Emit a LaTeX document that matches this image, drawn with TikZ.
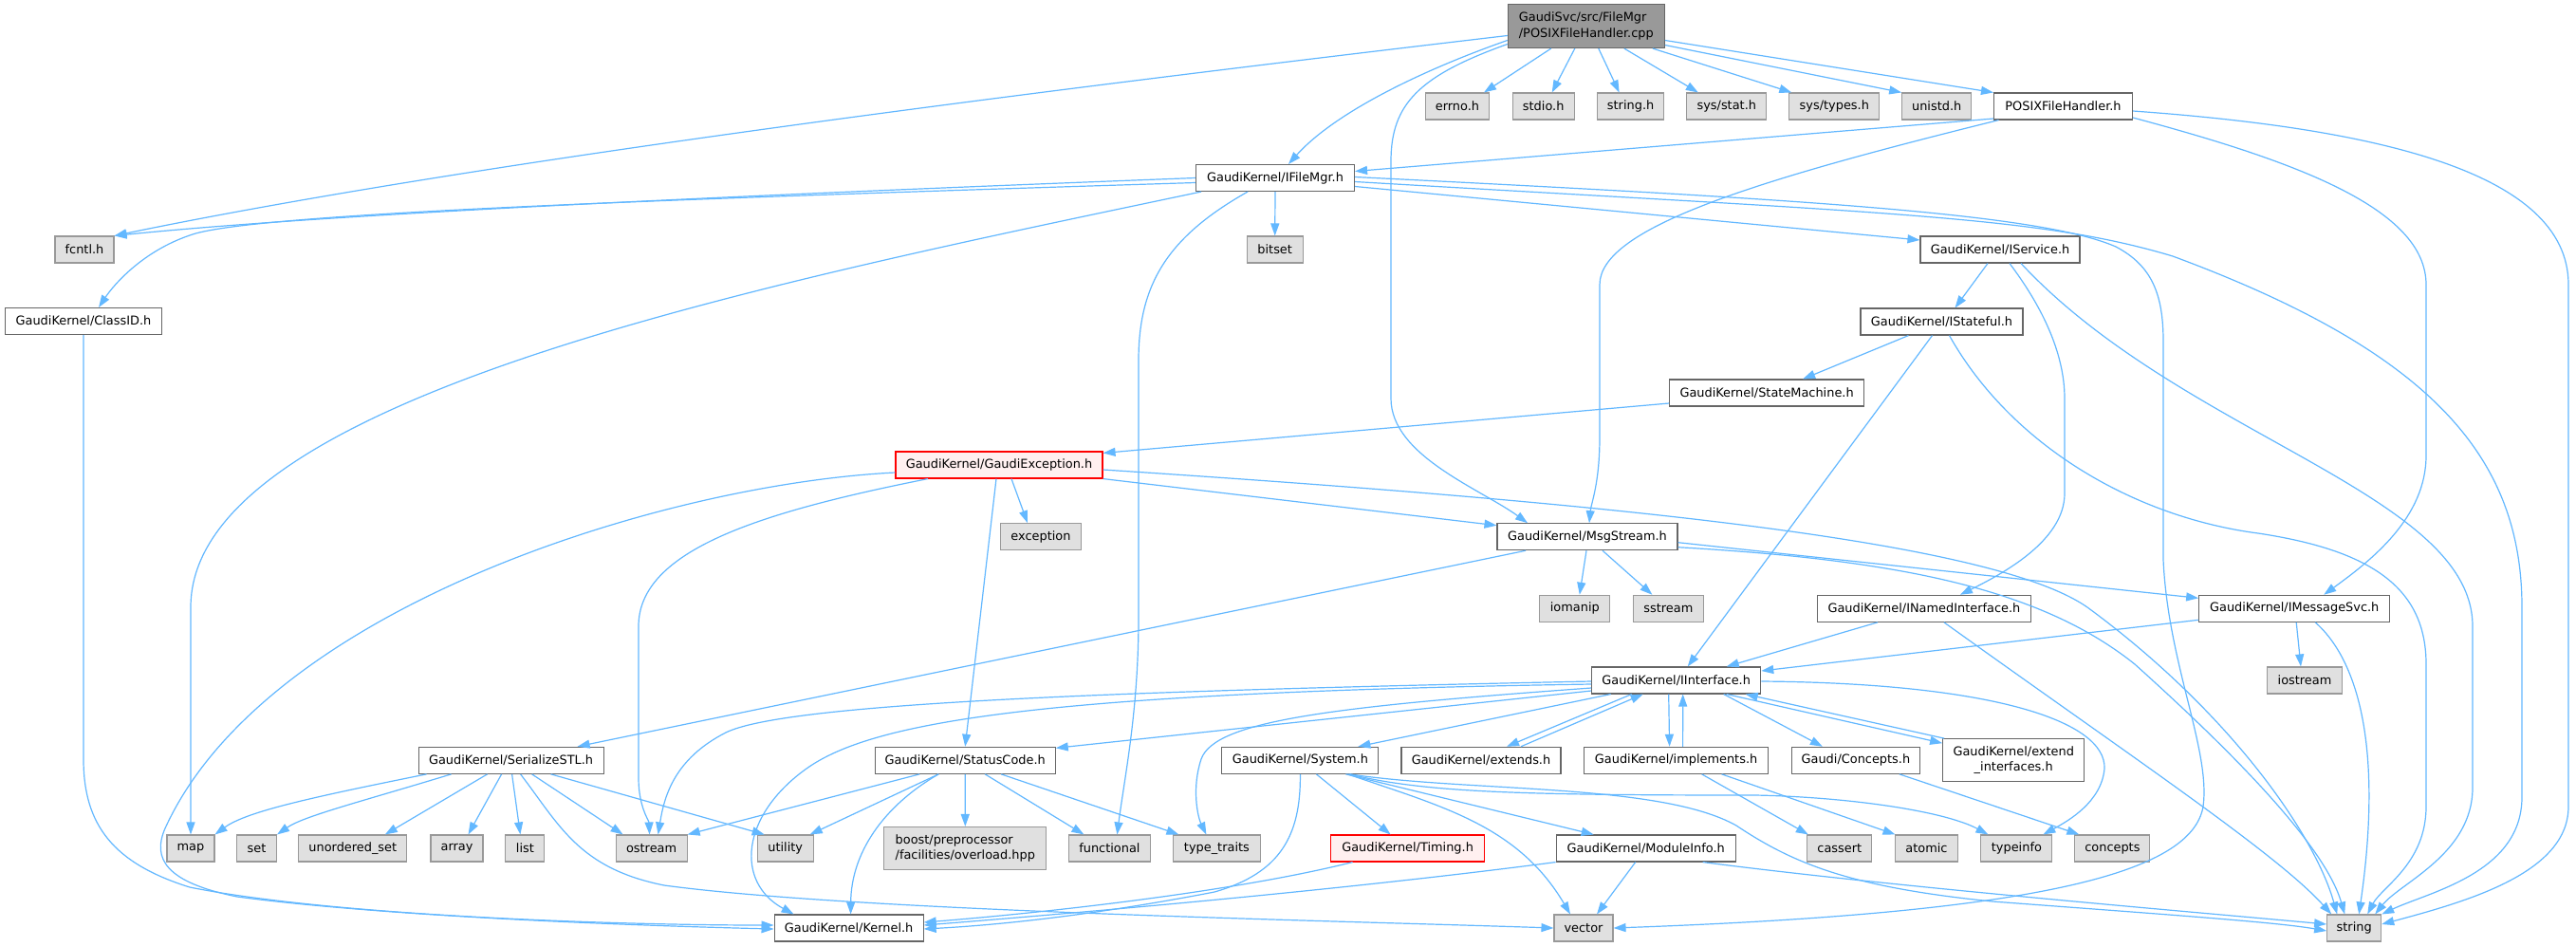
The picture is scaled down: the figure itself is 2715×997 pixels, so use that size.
\documentclass[tikz,border=0pt]{standalone}
\usepackage{fontspec}
\setmainfont{DejaVu Sans}
\usetikzlibrary{arrows.meta}
\definecolor{edgec}{HTML}{63B8FF}
\definecolor{wbord}{HTML}{666666}
\definecolor{gbord}{HTML}{999999}
\definecolor{gfill}{HTML}{E0E0E0}
\definecolor{rfill}{HTML}{FFF0F0}
\definecolor{rootfill}{HTML}{999999}
\tikzset{
  basebox/.style={rectangle, line width=1.1pt, minimum height=28pt, inner xsep=2pt, inner ysep=0pt,
    font=\fontsize{12.9pt}{16.5pt}\selectfont, text=black},
  wbox/.style={basebox, draw=wbord, fill=white},
  gbox/.style={basebox, draw=gbord, fill=gfill},
  rbox/.style={basebox, draw=red, fill=rfill},
  rootbox/.style={basebox, draw=wbord, fill=rootfill},
  dep/.style={draw=edgec, line width=1.2pt, -{Triangle[length=13pt,width=9pt]}}
}
\begin{document}
\begin{tikzpicture}[x=1pt,y=-1pt]
\useasboundingbox[fill=white] (0,0) rectangle (2715,997);

% nodes
\node[rootbox, minimum width=165pt, minimum height=46pt, align=left] (root) at (1671.8,27.5) {GaudiSvc/src/FileMgr\\/POSIXFileHandler.cpp};
\node[gbox, minimum width=67pt] (errno) at (1536,112) {errno.h};
\node[gbox, minimum width=65pt] (stdio) at (1626.7,112) {stdio.h};
\node[gbox, minimum width=70pt] (stringh) at (1718.6,112) {string.h};
\node[gbox, minimum width=84pt] (sysstat) at (1819.8,112) {sys/stat.h};
\node[gbox, minimum width=95pt] (systypes) at (1933.3,112) {sys/types.h};
\node[gbox, minimum width=73pt] (unistd) at (2041.2,112) {unistd.h};
\node[wbox, minimum width=146pt] (posix) at (2174.5,112) {POSIXFileHandler.h};
\node[wbox, minimum width=167pt] (ifilemgr) at (1344,187.5) {GaudiKernel/IFileMgr.h};
\node[gbox, minimum width=62pt] (fcntl) at (89,263) {fcntl.h};
\node[gbox, minimum width=59pt] (bitset) at (1343.7,263) {bitset};
\node[wbox, minimum width=168pt] (iservice) at (2108,263) {GaudiKernel/IService.h};
\node[wbox, minimum width=165pt] (classid) at (88,338.5) {GaudiKernel/ClassID.h};
\node[wbox, minimum width=171pt] (istateful) at (2046.5,339) {GaudiKernel/IStateful.h};
\node[wbox, minimum width=205pt] (statemachine) at (1862.1,414) {GaudiKernel/StateMachine.h};
\node[rbox, minimum width=218pt] (gexc) at (1053,490) {GaudiKernel/GaudiException.h};
\node[gbox, minimum width=85pt] (exception) at (1097,565.7) {exception};
\node[wbox, minimum width=190pt] (msgstream) at (1673,565.7) {GaudiKernel/MsgStream.h};
\node[gbox, minimum width=74pt] (iomanip) at (1659.8,641.3) {iomanip};
\node[gbox, minimum width=74pt] (sstream) at (1758.4,641.3) {sstream};
\node[wbox, minimum width=225pt] (inamed) at (2027.9,641.3) {GaudiKernel/INamedInterface.h};
\node[wbox, minimum width=201pt] (imsgsvc) at (2418.2,641.3) {GaudiKernel/IMessageSvc.h};
\node[wbox, minimum width=178pt] (iinterface) at (1766.7,717) {GaudiKernel/IInterface.h};
\node[gbox, minimum width=79pt] (iostream) at (2429,717) {iostream};
\node[wbox, minimum width=195pt] (serialize) at (538.6,801.3) {GaudiKernel/SerializeSTL.h};
\node[wbox, minimum width=190pt] (statuscode) at (1017.2,801.3) {GaudiKernel/StatusCode.h};
\node[wbox, minimum width=165pt] (system) at (1370.4,801.3) {GaudiKernel/System.h};
\node[wbox, minimum width=168pt] (extends) at (1561,801.3) {GaudiKernel/extends.h};
\node[wbox, minimum width=194pt] (implements) at (1766.6,801.3) {GaudiKernel/implements.h};
\node[wbox, minimum width=135pt] (conceptsh) at (1955.9,801.3) {Gaudi/Concepts.h};
\node[wbox, minimum width=149pt, minimum height=45pt, align=center] (extendif) at (2122.2,801.2) {GaudiKernel/extend\\\_interfaces.h};
\node[gbox, minimum width=50pt] (map) at (201,894) {map};
\node[gbox, minimum width=42pt] (set) at (270.5,894) {set};
\node[gbox, minimum width=114pt] (uset) at (371.8,894) {unordered\_set};
\node[gbox, minimum width=55pt] (array) at (481.5,894) {array};
\node[gbox, minimum width=41pt] (list) at (553.4,894) {list};
\node[gbox, minimum width=75pt] (ostream) at (686.6,894) {ostream};
\node[gbox, minimum width=59pt] (utility) at (827.7,894) {utility};
\node[gbox, minimum width=171pt, minimum height=45pt, align=left] (boost) at (1017.3,894) {boost/preprocessor\\/facilities/overload.hpp};
\node[gbox, minimum width=86pt] (functional) at (1169.4,894) {functional};
\node[gbox, minimum width=92pt] (typetraits) at (1282.4,894) {type\_traits};
\node[rbox, minimum width=162pt] (timing) at (1483.6,894) {GaudiKernel/Timing.h};
\node[wbox, minimum width=189pt] (moduleinfo) at (1734.7,894) {GaudiKernel/ModuleInfo.h};
\node[gbox, minimum width=68pt] (cassert) at (1938.8,894) {cassert};
\node[gbox, minimum width=66pt] (atomic) at (2030.5,894) {atomic};
\node[gbox, minimum width=75pt] (typeinfo) at (2125.4,894) {typeinfo};
\node[gbox, minimum width=79pt] (concepts) at (2226.4,894) {concepts};
\node[wbox, minimum width=157pt] (kernel) at (894.6,978) {GaudiKernel/Kernel.h};
\node[gbox, minimum width=62pt] (vector) at (1669,978) {vector};
\node[gbox, minimum width=57pt] (string) at (2481.2,978) {string};

% root edges
\draw[dep] ([yshift=-10]root.west) .. controls (1100,95) and (500,170) .. (fcntl.north east);
\draw[dep] ([xshift=-37]root.south) -- ([xshift=28]errno.north);
\draw[dep] ([xshift=-12]root.south) -- ([xshift=9]stdio.north);
\draw[dep] ([xshift=13]root.south) -- ([xshift=-12]stringh.north);
\draw[dep] ([xshift=40]root.south) -- ([xshift=-30]sysstat.north);
\draw[dep] ([xshift=70]root.south) -- ([xshift=-45]systypes.north);
\draw[dep] ([yshift=-20]root.east) -- (unistd.north west);
\draw[dep] ([yshift=-15]root.east) -- (posix.north west);
\draw[dep] ([yshift=-15]root.west) .. controls (1510,70) and (1410,115) .. ([xshift=14]ifilemgr.north);
\draw[dep] ([yshift=-19]root.west) .. controls (1495,80) and (1466,110) .. (1466,170) -- (1466,420) .. controls (1466,480) and (1560,515) .. ([xshift=-63]msgstream.north);

% POSIXFileHandler.h
\draw[dep] ([yshift=-13]posix.west) -- ([yshift=7]ifilemgr.east);
\draw[dep] ([xshift=-68]posix.south) .. controls (1850,190) and (1686,240) .. (1686,300) -- (1686,460) .. controls (1686,510) and (1677,530) .. ([xshift=2]msgstream.north);
\draw[dep] ([yshift=-12]posix.east) .. controls (2420,170) and (2557,220) .. (2557,300) -- (2557,480) .. controls (2557,545) and (2500,590) .. ([xshift=31]imsgsvc.north);
\draw[dep] ([yshift=-5]posix.east) .. controls (2500,135) and (2707,180) .. (2707,300) -- (2707,850) .. controls (2707,920) and (2600,950) .. ([yshift=4]string.east);

% IFileMgr.h
\draw[dep] (ifilemgr.west) .. controls (800,205) and (350,225) .. (fcntl.north east);
\draw[dep] ([yshift=-5]ifilemgr.west) .. controls (700,210) and (260,225) .. (200,248) .. controls (150,265) and (120,300) .. ([xshift=16]classid.north);
\draw[dep] ([xshift=-78]ifilemgr.south) .. controls (800,300) and (201,420) .. (201,640) -- (map.north);
\draw[dep] (ifilemgr.south) -- (bitset.north);
\draw[dep] ([xshift=-29]ifilemgr.south) .. controls (1230,250) and (1200,300) .. (1200,380) -- (1200,650) .. controls (1200,750) and (1185,820) .. ([xshift=8]functional.north);
\draw[dep] ([yshift=-9]ifilemgr.east) -- ([yshift=10]iservice.west);
\draw[dep] ([yshift=-4]ifilemgr.east) .. controls (2000,225) and (2150,228) .. (2290,270) .. controls (2560,370) and (2658,480) .. (2658,640) -- (2658,840) .. controls (2658,920) and (2560,940) .. (string.north east);
\draw[dep] ([yshift=1]ifilemgr.east) .. controls (1900,210) and (2150,225) .. (2230,260) .. controls (2268,280) and (2280,310) .. (2280,360) -- (2280,590) .. controls (2285,700) and (2330,790) .. (2322,850) .. controls (2310,920) and (2150,962) .. (vector.east);

% IService.h
\draw[dep] ([xshift=-13]iservice.south) -- ([xshift=14]istateful.north);
\draw[dep] ([xshift=10]iservice.south) .. controls (2150,320) and (2176,370) .. (2176,420) -- (2176,520) .. controls (2176,570) and (2110,605) .. ([xshift=38]inamed.north);
\draw[dep] ([xshift=22]iservice.south) .. controls (2300,460) and (2606,520) .. (2606,660) -- (2606,830) .. controls (2606,900) and (2530,930) .. ([xshift=22]string.north);

% IStateful.h
\draw[dep] ([xshift=-35]istateful.south) -- ([xshift=38]statemachine.north);
\draw[dep] ([xshift=-10]istateful.south) -- ([xshift=12]iinterface.north);
\draw[dep] ([xshift=8]istateful.south) .. controls (2120,470) and (2250,545) .. (2380,562) .. controls (2500,580) and (2557,620) .. (2557,700) -- (2557,850) .. controls (2557,910) and (2510,935) .. ([xshift=14]string.north);

% StateMachine.h
\draw[dep] ([yshift=-11]statemachine.west) -- ([yshift=-2]gexc.north east);

% GaudiException.h
\draw[dep] ([yshift=-8]gexc.west) .. controls (700,510) and (280,640) .. (174,873) .. controls (160,905) and (175,930) .. (250,945) .. controls (400,965) and (650,975) .. ([yshift=-1]kernel.west);
\draw[dep] ([xshift=-75]gexc.south) .. controls (800,540) and (673,580) .. (673,660) -- (673,820) .. controls (673,850) and (684,865) .. ([xshift=-2]ostream.north);
\draw[dep] ([xshift=13]gexc.south) -- ([xshift=-14]exception.north);
\draw[dep] ([xshift=-3]gexc.south) -- (statuscode.north);
\draw[dep] (gexc.south east) -- ([yshift=12]msgstream.west);
\draw[dep] ([yshift=-5]gexc.east) .. controls (1700,530) and (2100,570) .. (2200,640) .. controls (2350,750) and (2440,880) .. ([xshift=-18]string.north);

% MsgStream.h
\draw[dep] ([xshift=-1]msgstream.south) -- ([xshift=5]iomanip.north);
\draw[dep] ([xshift=16]msgstream.south) -- ([xshift=-17]sstream.north);
\draw[dep] ([xshift=-65]msgstream.south) -- ([xshift=70]serialize.north);
\draw[dep] ([yshift=-6]msgstream.east) -- ([yshift=11]imsgsvc.west);
\draw[dep] ([yshift=-11]msgstream.east) .. controls (2000,590) and (2150,620) .. (2250,700) .. controls (2350,790) and (2450,890) .. ([xshift=-10]string.north);

% INamedInterface.h
\draw[dep] ([xshift=-49]inamed.south) -- ([xshift=53]iinterface.north);
\draw[dep] ([xshift=21]inamed.south) .. controls (2250,800) and (2400,900) .. ([xshift=-24]string.north);

% IMessageSvc.h
\draw[dep] ([yshift=-12]imsgsvc.west) -- ([yshift=10]iinterface.east);
\draw[dep] ([xshift=2]imsgsvc.south) -- ([xshift=-4]iostream.north);
\draw[dep] ([xshift=22]imsgsvc.south) .. controls (2490,700) and (2510,800) .. ([xshift=5]string.north);

% IInterface.h
\draw[dep] ([yshift=-1]iinterface.west) .. controls (1200,728) and (830,740) .. (765,772) .. controls (710,800) and (700,840) .. ([xshift=7]ostream.north);
\draw[dep] ([yshift=-4]iinterface.west) .. controls (1100,730) and (920,760) .. (850,810) .. controls (780,860) and (775,930) .. ([xshift=-58]kernel.north);
\draw[dep] ([yshift=-11]iinterface.west) -- ([yshift=13]statuscode.east);
\draw[dep] ([yshift=-8]iinterface.west) .. controls (1400,745) and (1280,760) .. (1266,800) .. controls (1256,830) and (1262,860) .. ([xshift=-11]typetraits.north);
\draw[dep] ([xshift=-69]iinterface.south) -- ([xshift=61]system.north);
\draw[dep] ([xshift=-47]iinterface.south) -- ([xshift=27]extends.north);
\draw[dep] ([xshift=42]extends.north) -- ([xshift=-35]iinterface.south);
\draw[dep] ([xshift=-8]iinterface.south) -- ([xshift=-7]implements.north);
\draw[dep] ([xshift=7]implements.north) -- ([xshift=7]iinterface.south);
\draw[dep] ([xshift=50]iinterface.south) -- ([xshift=-35]conceptsh.north);
\draw[dep] ([xshift=53]iinterface.south) -- ([yshift=18]extendif.west);
\draw[dep] ([xshift=2]extendif.north west) -- ([xshift=73]iinterface.south);
\draw[dep] ([yshift=-1]iinterface.east) .. controls (2100,720) and (2220,760) .. (2218,810) .. controls (2215,845) and (2180,865) .. ([xshift=28]typeinfo.north);

% SerializeSTL.h
\draw[dep] ([xshift=-89]serialize.south) .. controls (330,840) and (260,855) .. (map.north east);
\draw[dep] ([xshift=-63]serialize.south) .. controls (380,845) and (320,860) .. (set.north east);
\draw[dep] ([xshift=-25]serialize.south) -- ([xshift=34]uset.north);
\draw[dep] ([xshift=-10]serialize.south) -- ([xshift=12]array.north);
\draw[dep] ([xshift=1]serialize.south) -- ([xshift=-5]list.north);
\draw[dep] ([xshift=22]serialize.south) -- ([xshift=-30]ostream.north);
\draw[dep] ([xshift=42]serialize.south) -- ([xshift=-22]utility.north);
\draw[dep] ([xshift=10]serialize.south) .. controls (590,870) and (610,915) .. (700,933) .. controls (900,960) and (1400,970) .. (vector.west);

% StatusCode.h
\draw[dep] ([xshift=-48]statuscode.south) -- (ostream.north east);
\draw[dep] ([xshift=-28]statuscode.south) -- ([xshift=26]utility.north);
\draw[dep] ([xshift=-28]statuscode.south) .. controls (930,850) and (897,900) .. ([xshift=2]kernel.north);
\draw[dep] (statuscode.south) -- (boost.north);
\draw[dep] ([xshift=21]statuscode.south) -- ([xshift=-27]functional.north);
\draw[dep] ([xshift=38]statuscode.south) -- ([xshift=-40]typetraits.north);

% System.h
\draw[dep] (system.south) .. controls (1371,880) and (1350,920) .. (1280,940) .. controls (1150,965) and (1050,975) .. ([yshift=-1]kernel.east);
\draw[dep] ([xshift=17]system.south) -- ([xshift=-18]timing.north);
\draw[dep] ([xshift=48]system.south) -- ([xshift=-55]moduleinfo.north);
\draw[dep] ([xshift=50]system.south) .. controls (1520,850) and (1600,870) .. ([xshift=-14]vector.north);
\draw[dep] ([xshift=52]system.south) .. controls (1500,835) and (1600,838) .. (1850,838) .. controls (1950,840) and (2050,855) .. ([xshift=-30]typeinfo.north);
\draw[dep] ([xshift=52]system.south) .. controls (1550,835) and (1750,825) .. (1830,870) .. controls (1890,910) and (1950,935) .. (2100,950) .. controls (2300,965) and (2400,972) .. ([yshift=-3]string.west);

% Timing.h, ModuleInfo.h
\draw[dep] ([xshift=-58]timing.south) .. controls (1300,940) and (1100,962) .. ([yshift=6]kernel.east);
\draw[dep] (moduleinfo.south west) .. controls (1400,940) and (1100,965) .. ([yshift=3]kernel.east);
\draw[dep] ([xshift=-11]moduleinfo.south) -- ([xshift=14]vector.north);
\draw[dep] ([xshift=60]moduleinfo.south) .. controls (2000,935) and (2300,960) .. ([yshift=4]string.west);

% implements.h, Concepts.h
\draw[dep] ([xshift=27]implements.south) -- ([xshift=-33]cassert.north);
\draw[dep] ([xshift=48]implements.south) -- ([xshift=-33]atomic.north);
\draw[dep] ([xshift=46]conceptsh.south) -- ([xshift=-35]concepts.north);

% ClassID.h
\draw[dep] (classid.south) -- (88,800) .. controls (88,870) and (120,910) .. (200,935) .. controls (350,965) and (650,975) .. ([yshift=3]kernel.west);
\end{tikzpicture}
\end{document}
